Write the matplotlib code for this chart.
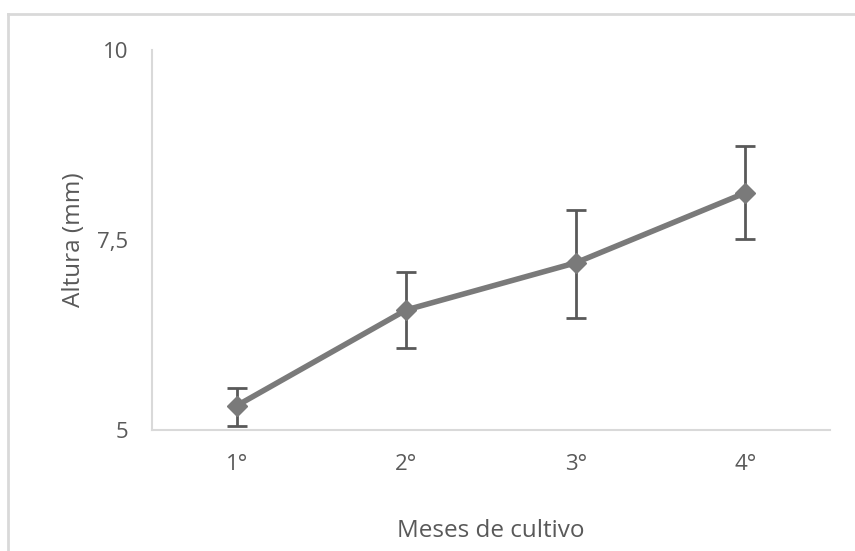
import matplotlib
matplotlib.use("Agg")
import matplotlib.pyplot as plt
from matplotlib.lines import Line2D

categories = ["1°", "2°", "3°", "4°"]
altura = [5.32, 6.58, 7.20, 8.12]
err_low = [0.27, 0.50, 0.73, 0.61]
err_high = [0.23, 0.50, 0.69, 0.62]
yticks = [5, 7.5, 10]
ytick_labels = ["5", "7,5", "10"]

plt.rcParams['font.family'] = ['Open Sans', 'DejaVu Sans']
fig = plt.figure(figsize=(8.55, 5.51), dpi=100)
ax = fig.add_axes([152/855, 121/551, 678/855, 380/551])

x = list(range(1, len(categories) + 1))
ax.errorbar(x, altura, yerr=[err_low, err_high], fmt='none', ecolor='#595959',
            elinewidth=2, capsize=7, capthick=2, zorder=2)
ax.plot(x, altura, color='#7a7a7a', linewidth=4, marker='D', markersize=10,
        markerfacecolor='#7a7a7a', markeredgecolor='#7a7a7a', zorder=3)

ax.set_xlim(0.5, 4.5)
ax.set_ylim(5, 10)
ax.set_xticks(x)
ax.set_xticklabels(categories)
ax.set_yticks(yticks)
ax.set_yticklabels(ytick_labels)
ax.tick_params(length=0, labelsize=16, colors='#595959')
ax.tick_params(axis='x', pad=17)
ax.tick_params(axis='y', pad=17)
for s in ['top', 'right']:
    ax.spines[s].set_visible(False)
for s in ['left', 'bottom']:
    ax.spines[s].set_color('#d9d9d9')
    ax.spines[s].set_linewidth(1.5)
ax.set_xlabel("Meses de cultivo", fontsize=17.5, color='#595959', labelpad=32)
ax.set_ylabel("Altura (mm)", fontsize=17.5, color='#595959', labelpad=8)

# outer chart border (left and top visible)
fig.add_artist(Line2D([8/855, 8/855], [0, 1 - 14/551], transform=fig.transFigure,
                      color='#d9d9d9', linewidth=2))
fig.add_artist(Line2D([8/855, 1], [1 - 14/551, 1 - 14/551], transform=fig.transFigure,
                      color='#d9d9d9', linewidth=2))

fig.savefig("out.png", dpi=100)
